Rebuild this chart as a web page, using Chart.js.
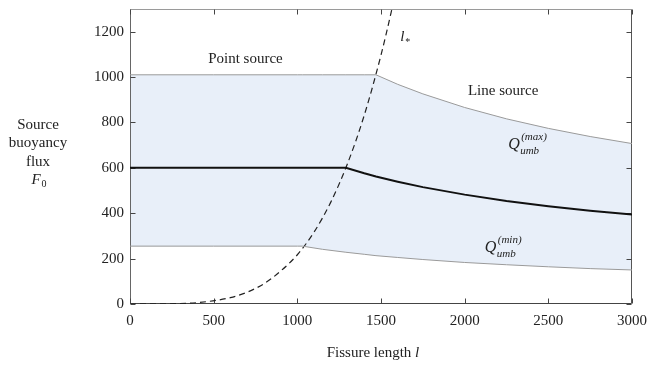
<!DOCTYPE html>
<html>
<head>
<meta charset="utf-8">
<script src="https://cdn.jsdelivr.net/npm/chart.js@4.4.0/dist/chart.umd.min.js"></script>
<style>
  html, body { margin: 0; padding: 0; background: #fff; }
  #wrap { width: 647px; height: 367px; }
</style>
</head>
<body>
<div id="wrap"><canvas id="flux-chart"></canvas></div>
<script>
// Fissure length samples shared by the three umbrella flux curves
var fissureLength = [0, 500, 1000, 1030, 1150, 1290, 1400, 1470, 1600, 1750, 2000, 2250, 2500, 2750, 3000];
var fluxMax = [1010, 1010, 1010, 1010, 1010, 1010, 1010, 1010, 968, 926, 866, 816, 774, 738, 707];
var fluxMid = [600, 600, 600, 600, 600, 600, 576, 562, 539, 515, 482, 454, 431, 411, 394];
var fluxMin = [255, 255, 255, 255, 241, 228, 219, 213, 205, 196, 183, 173, 164, 156, 150];

// transition length l* (dashed)
var lStar = [0, 200, 400, 600, 700, 800, 900, 1000, 1100, 1200, 1300, 1400, 1500, 1560, 1600];
var fStar = [0, 0.8, 6, 28, 52, 89, 145, 217, 317, 449, 619, 832, 1097, 1283, 1420];

// tick labels
var xTicks = [0, 500, 1000, 1500, 2000, 2500, 3000];
var yTicks = [0, 200, 400, 600, 800, 1000, 1200];

var serif = '"Liberation Serif", "DejaVu Serif", serif';

function pts(xs, ys) {
    return xs.map(function (x, i) { return { x: x, y: ys[i] }; });
}

function seg(ctx, x1, y1, x2, y2, c) {
    ctx.strokeStyle = c;
    ctx.beginPath(); ctx.moveTo(x1, y1); ctx.lineTo(x2, y2); ctx.stroke();
}

// frame, inward ticks (under the lines) and text labels (on top)
var decorations = {
    id: 'decorations',
    beforeDatasetsDraw: function (chart) {
        var ctx = chart.ctx, a = chart.chartArea;
        var xs = chart.scales.x, ys = chart.scales.y;
        var L = Math.round(a.left) + 0.5, R = Math.round(a.right) - 0.5;
        var T = Math.round(a.top) + 0.5, B = Math.round(a.bottom) - 0.5;
        ctx.save();
        ctx.lineWidth = 1;
        seg(ctx, L, T, R, T, '#9a9a9a');
        seg(ctx, R, T, R, B, '#555');
        seg(ctx, L, B, R, B, '#444');
        seg(ctx, L, T, L, B, '#666');

        xTicks.forEach(function (v) {
            var px = Math.round(xs.getPixelForValue(v)) + 0.5;
            seg(ctx, px, B, px, B - 5, '#444');
            seg(ctx, px, T, px, T + 5, '#444');
        });
        yTicks.forEach(function (v) {
            var py = Math.round(ys.getPixelForValue(v)) + 0.5;
            seg(ctx, L, py, L + 5, py, '#444');
            seg(ctx, R, py, R - 5, py, '#444');
        });
        ctx.restore();
    },
    afterDraw: function (chart) {
        var ctx = chart.ctx;
        var xs = chart.scales.x, ys = chart.scales.y;
        ctx.save();
        ctx.fillStyle = '#222';
        ctx.textBaseline = 'middle';
        ctx.textAlign = 'center';
        ctx.font = '15px ' + serif;
        ctx.fillText('Point source', xs.getPixelForValue(690), ys.getPixelForValue(1080));
        ctx.fillText('Line source', xs.getPixelForValue(2230), ys.getPixelForValue(940));

        // l*
        ctx.textAlign = 'left';
        ctx.font = 'italic 15px ' + serif;
        var lx = xs.getPixelForValue(1615), ly = ys.getPixelForValue(1175);
        ctx.fillText('l', lx, ly);
        ctx.font = '10px ' + serif;
        ctx.fillText('*', lx + 5, ly + 5);

        // Q labels
        function qLabel(x, y, sup) {
            ctx.textAlign = 'left';
            ctx.font = 'italic 16px ' + serif;
            ctx.fillText('Q', x, y);
            ctx.font = 'italic 11px ' + serif;
            ctx.fillText('umb', x + 12, y + 6);
            ctx.fillText('(' + sup + ')', x + 13, y - 8);
        }
        qLabel(xs.getPixelForValue(2260), ys.getPixelForValue(700), 'max');
        qLabel(xs.getPixelForValue(2120), ys.getPixelForValue(246), 'min');

        // y axis title
        ctx.textAlign = 'center';
        ctx.font = '15px ' + serif;
        ctx.fillText('Source', 38, 125);
        ctx.fillText('buoyancy', 38, 143);
        ctx.fillText('flux', 38, 162);
        ctx.font = 'italic 15px ' + serif;
        ctx.fillText('F', 36, 180);
        ctx.font = '10px ' + serif;
        ctx.fillText('0', 44, 184);

        // x axis title
        ctx.font = '15px ' + serif;
        ctx.textAlign = 'left';
        var t = 'Fissure length ';
        var w = ctx.measureText(t).width;
        ctx.font = 'italic 15px ' + serif;
        var w2 = ctx.measureText('l').width;
        var sx = 373 - (w + w2) / 2;
        ctx.font = '15px ' + serif;
        ctx.fillText(t, sx, 353);
        ctx.font = 'italic 15px ' + serif;
        ctx.fillText('l', sx + w, 353);
        ctx.restore();
    }
};

var chartData = {
    datasets: [{
        label: 'Q max',
        data: pts(fissureLength, fluxMax),
        borderColor: '#9a9a9a',
        borderWidth: 1,
        pointRadius: 0,
        fill: 2,
        backgroundColor: '#e8eff9'
    }, {
        label: 'F0',
        data: pts(fissureLength, fluxMid),
        borderColor: '#111',
        borderWidth: 2,
        pointRadius: 0,
        fill: false
    }, {
        label: 'Q min',
        data: pts(fissureLength, fluxMin),
        borderColor: '#9a9a9a',
        borderWidth: 1,
        pointRadius: 0,
        fill: false
    }, {
        label: 'l*',
        data: pts(lStar, fStar),
        borderColor: '#222',
        borderWidth: 1.2,
        borderDash: [6, 4],
        pointRadius: 0,
        fill: false,
        cubicInterpolationMode: 'monotone'
    }]
};

var chartOptions = {
    responsive: true,
    maintainAspectRatio: false,
    animation: false,
    layout: { padding: { top: 9, right: 15, left: 0, bottom: 0 } },
    plugins: {
        legend: { display: false },
        tooltip: { enabled: false },
        filler: { drawTime: 'beforeDatasetsDraw' }
    },
    scales: {
        x: {
            type: 'linear',
            min: 0,
            max: 3000,
            grid: { display: false, drawTicks: false },
            border: { display: false },
            ticks: {
                stepSize: 500, padding: 8, maxRotation: 0, color: '#222',
                font: { family: serif, size: 15 },
                callback: function (v) { return String(v); }
            },
            afterFit: function (s) {
                s.height = 63;
                s.paddingLeft = 0; s.paddingRight = 0;
            }
        },
        y: {
            type: 'linear',
            min: 0,
            max: 1300,
            grid: { display: false, drawTicks: false },
            border: { display: false },
            ticks: {
                stepSize: 200, padding: 6, color: '#222',
                font: { family: serif, size: 15 },
                callback: function (v) { return String(v); }
            },
            afterBuildTicks: function (s) {
                s.ticks = s.ticks.filter(function (t) { return t.value % 200 === 0; });
            },
            afterFit: function (s) {
                s.width = 130;
                s.paddingTop = 0; s.paddingBottom = 0;
            }
        }
    }
};

var ctx = document.getElementById('flux-chart');
var fluxChart = new Chart(ctx, {
    type: 'line',
    data: chartData,
    options: chartOptions,
    plugins: [decorations]
});
</script>
</body>
</html>
